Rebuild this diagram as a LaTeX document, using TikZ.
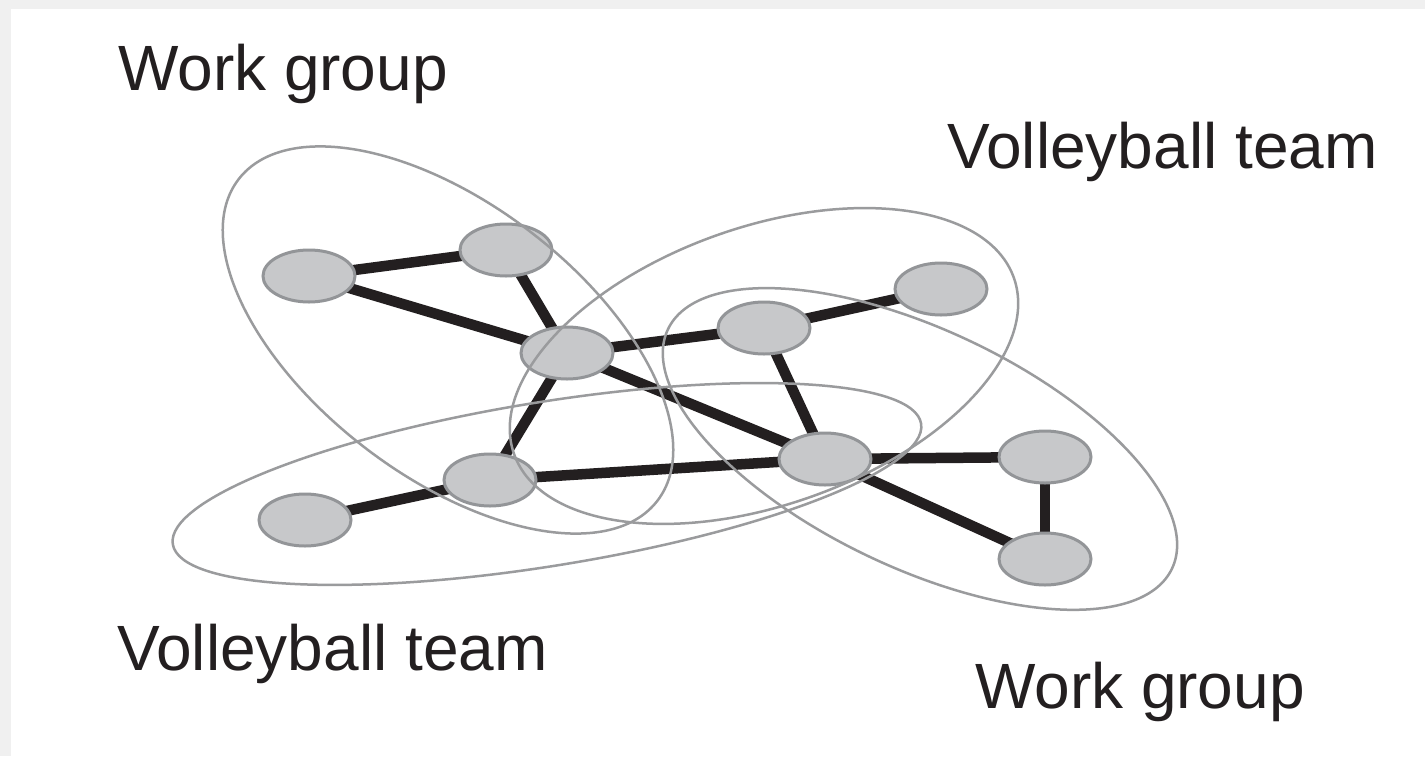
\documentclass[tikz,border=0pt]{standalone}
\usepackage{fontspec}
\setmainfont{Liberation Sans}
\usetikzlibrary{shapes.geometric,backgrounds}
\definecolor{edgecol}{HTML}{231F20}
\definecolor{nodefill}{HTML}{C7C8CA}
\definecolor{nodeline}{HTML}{939598}
\definecolor{grpline}{HTML}{9A9B9D}
\definecolor{frame}{HTML}{F0F0F0}
\tikzset{
  vert/.style={ellipse, minimum width=92pt, minimum height=52pt, inner sep=0pt,
    fill=nodefill, draw=nodeline, line width=3pt},
  link/.style={draw=edgecol, line width=10.5pt},
  grp/.style={draw=grpline, line width=2.5pt},
  lbl/.style={anchor=base west, inner sep=0pt, text=edgecol,
    font=\fontsize{64}{76}\selectfont}
}
\begin{document}
\begin{tikzpicture}[x=1pt, y=-1pt]
\useasboundingbox (0,0) rectangle (1425,756);

% labels
\node[lbl] (wg1) at (118,90) {Work group};
\node[lbl] (vb1) at (947,168) {Volleyball team};
\node[lbl] (vb2) at (117,670) {Volleyball team};
\node[lbl] (wg2) at (975,708) {Work group};

% vertices
\node[vert] (A) at (309,276) {};
\node[vert] (B) at (506,250) {};
\node[vert] (C) at (567,353) {};
\node[vert] (D) at (764,328) {};
\node[vert] (E) at (941,289) {};
\node[vert] (F) at (825,459) {};
\node[vert] (G) at (1045,457) {};
\node[vert] (H) at (1045,559) {};
\node[vert] (I) at (490,480) {};
\node[vert] (J) at (305,520) {};

% page frame and links behind vertices
\begin{pgfonlayer}{background}
\fill[white] (0,0) rectangle (1425,756);
\fill[frame] (0,0) rectangle (1425,9);
\fill[frame] (0,0) rectangle (11,756);
\draw[link] (A.center) -- (B.center);
\draw[link] (A.center) -- (C.center);
\draw[link] (B.center) -- (C.center);
\draw[link] (C.center) -- (D.center);
\draw[link] (D.center) -- (E.center);
\draw[link] (C.center) -- (I.center);
\draw[link] (C.center) -- (F.center);
\draw[link] (D.center) -- (F.center);
\draw[link] (I.center) -- (J.center);
\draw[link] (I.center) -- (F.center);
\draw[link] (F.center) -- (G.center);
\draw[link] (F.center) -- (H.center);
\draw[link] (G.center) -- (H.center);
\end{pgfonlayer}

% group outlines on top
\coordinate (g1) at (448,340);
\coordinate (g2) at (764,366);
\coordinate (g3) at (920,449);
\coordinate (g4) at (547,484);
\draw[grp, rotate around={-37.5:(g1)}] (g1) ellipse [x radius=264pt, y radius=136pt];
\draw[grp, rotate around={19.4:(g2)}] (g2) ellipse [x radius=265pt, y radius=139pt];
\draw[grp, rotate around={-25.4:(g3)}] (g3) ellipse [x radius=279pt, y radius=119pt];
\draw[grp, rotate around={9.15:(g4)}] (g4) ellipse [x radius=379pt, y radius=82pt];
\end{tikzpicture}
\end{document}
